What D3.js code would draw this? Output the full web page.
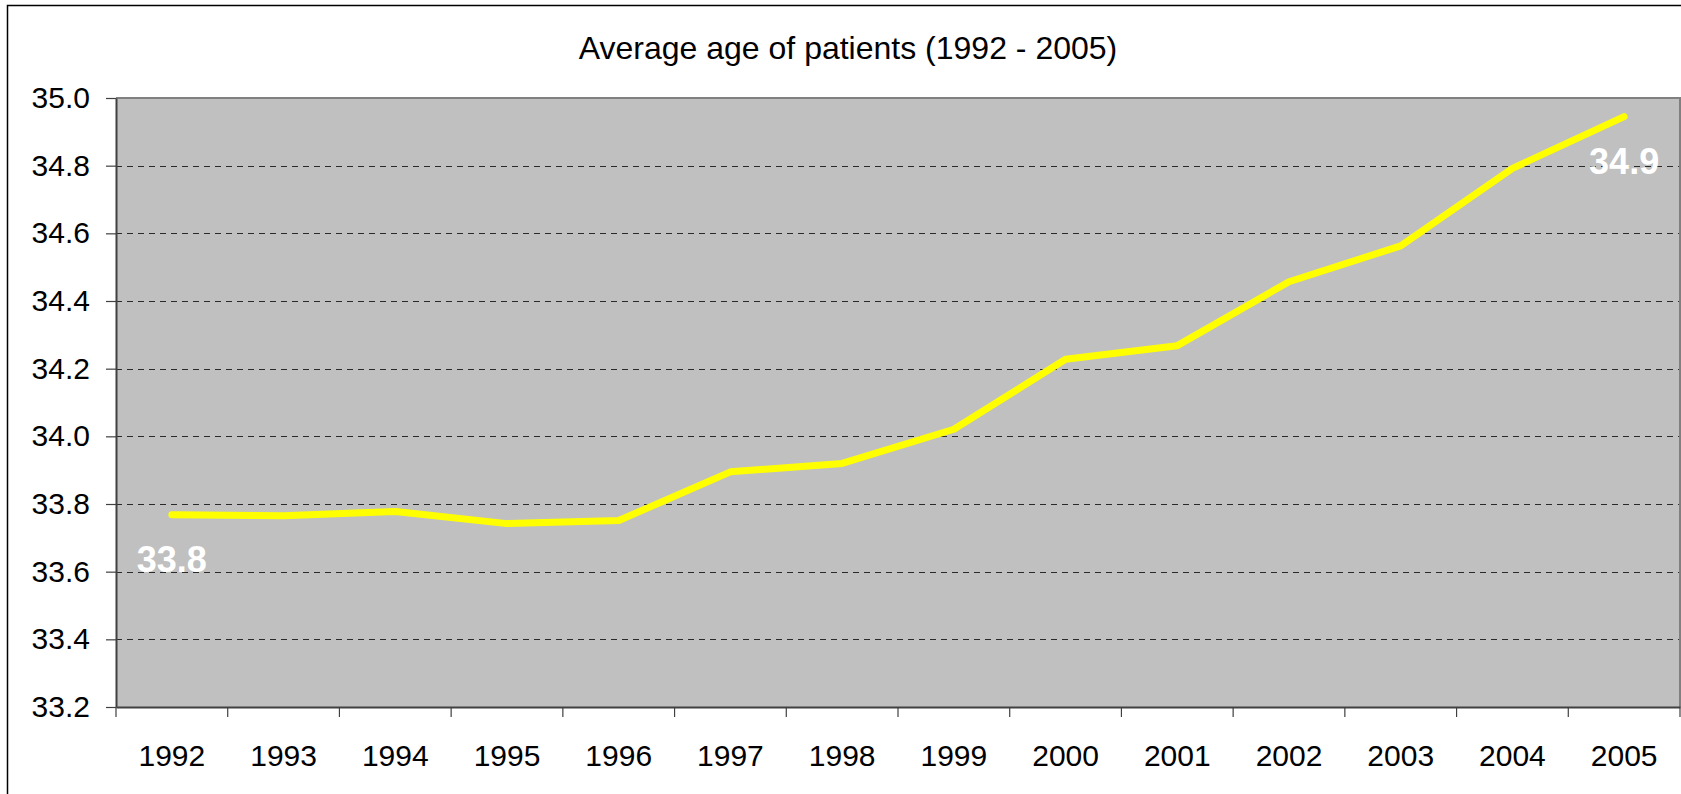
<!DOCTYPE html>
<html>
<head>
<meta charset="utf-8">
<script src="https://cdn.jsdelivr.net/npm/d3@7"></script>
<style>
  html, body { margin: 0; padding: 0; background: #fff; }
  svg { display: block; font-family: "Liberation Sans", Arial, sans-serif; }
</style>
</head>
<body>
<svg id="chart" width="1681" height="794"></svg>
<script>
// ---- data ----
const title = "Average age of patients (1992 - 2005)";
const years = ["1992","1993","1994","1995","1996","1997","1998","1999","2000","2001","2002","2003","2004","2005"];
const avgAge = [33.768, 33.765, 33.778, 33.742, 33.751, 33.895, 33.920, 34.021, 34.228, 34.268, 34.457, 34.563, 34.792, 34.945];
const yTicks = [33.2, 33.4, 33.6, 33.8, 34.0, 34.2, 34.4, 34.6, 34.8, 35.0];
const labelledIdx = [0, 13];

// ---- layout ----
const W = 1681, H = 794;
const plot = { left: 116, top: 98, right: 1680, bottom: 707 };

const svg = d3.select("#chart");

// outer frame
svg.append("rect")
  .attr("x", 7.5).attr("y", 5.5)
  .attr("width", W + 20).attr("height", H + 20)
  .attr("fill", "#fff").attr("stroke", "#000").attr("stroke-width", 1.5);

// title
svg.append("text")
  .attr("x", 848).attr("y", 59)
  .attr("text-anchor", "middle")
  .attr("font-size", 32)
  .attr("fill", "#000")
  .text(title);

const x = d3.scaleBand().domain(years).range([plot.left, plot.right]).padding(0);
const y = d3.scaleLinear().domain([33.2, 35.0]).range([plot.bottom, plot.top]);

// plot background
svg.append("rect")
  .attr("x", plot.left).attr("y", plot.top)
  .attr("width", plot.right - plot.left).attr("height", plot.bottom - plot.top)
  .attr("fill", "#c0c0c0");

// gridlines
svg.append("g").selectAll("line")
  .data(yTicks.filter(t => t > 33.2 && t < 35.0))
  .join("line")
  .attr("x1", plot.left).attr("x2", plot.right)
  .attr("y1", d => Math.round(y(d)) + 0.5).attr("y2", d => Math.round(y(d)) + 0.5)
  .attr("stroke", "#2a2a2a").attr("stroke-width", 1)
  .attr("stroke-dasharray", "6,5");

// top and right border (grey)
svg.append("path")
  .attr("d", `M${plot.left},${plot.top} H${plot.right} V${plot.bottom}`)
  .attr("fill", "none").attr("stroke", "#808080").attr("stroke-width", 2);

// y axis
const yAxis = d3.axisLeft(y)
  .tickValues(yTicks)
  .tickFormat(d3.format(".1f"))
  .tickSize(10)
  .tickSizeOuter(0)
  .tickPadding(16);
const gy = svg.append("g").attr("transform", `translate(${plot.left},0)`).call(yAxis);
gy.select(".domain").attr("stroke", "#404040").attr("stroke-width", 2);
gy.selectAll(".tick line").attr("stroke", "#404040").attr("stroke-width", 1.2);
gy.selectAll(".tick text").attr("font-size", 30).attr("fill", "#000")
  .attr("font-family", "Liberation Sans, Arial, sans-serif");

// x axis labels
const xAxis = d3.axisBottom(x).tickSize(0).tickSizeOuter(0).tickPadding(38);
const gx = svg.append("g").attr("transform", `translate(0,${plot.bottom})`).call(xAxis);
gx.select(".domain").attr("stroke", "#404040").attr("stroke-width", 2);
gx.selectAll(".tick text").attr("font-size", 30).attr("fill", "#000")
  .attr("font-family", "Liberation Sans, Arial, sans-serif");

// x boundary ticks
const bounds = years.map(d => x(d)).concat([x.range()[1]]);
svg.append("g").selectAll("line")
  .data(bounds)
  .join("line")
  .attr("x1", d => d).attr("x2", d => d)
  .attr("y1", plot.bottom).attr("y2", plot.bottom + 10)
  .attr("stroke", "#404040").attr("stroke-width", 1.2);

// line
const line = d3.line()
  .x((d, i) => x(years[i]) + x.bandwidth() / 2)
  .y(d => y(d));
svg.append("path")
  .datum(avgAge)
  .attr("d", line)
  .attr("fill", "none")
  .attr("stroke", "#ffff00")
  .attr("stroke-width", 7)
  .attr("stroke-linecap", "round")
  .attr("stroke-linejoin", "round");

// value labels
svg.append("g").selectAll("text")
  .data(labelledIdx)
  .join("text")
  .attr("x", i => x(years[i]) + x.bandwidth() / 2)
  .attr("y", i => y(avgAge[i]) + 57)
  .attr("text-anchor", "middle")
  .attr("font-size", 36)
  .attr("font-weight", "bold")
  .attr("fill", "#ffffff")
  .text(i => d3.format(".1f")(avgAge[i]));
</script>
</body>
</html>
